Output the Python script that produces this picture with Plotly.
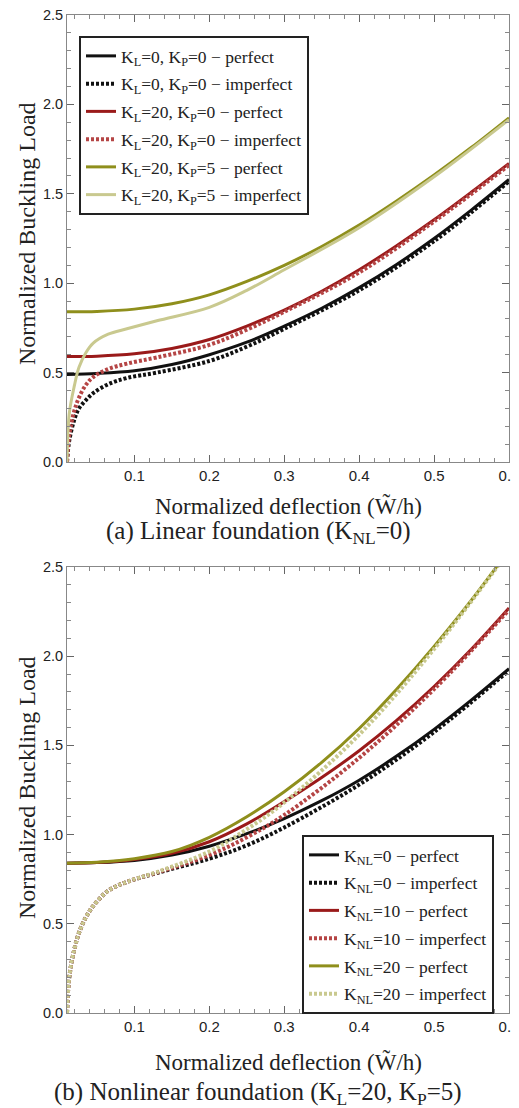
import plotly.graph_objects as go

# ---------------- data ----------------
X_PERF = [0.01, 0.05, 0.1, 0.15, 0.2, 0.25, 0.3, 0.35, 0.4, 0.45, 0.5, 0.55, 0.6]
X_IMP = [0.01, 0.013, 0.02, 0.026, 0.035, 0.045, 0.065, 0.09, 0.13, 0.2, 0.25, 0.3, 0.4, 0.5, 0.6]

# (a) linear foundation
A_KL0_KP0_PERF = [0.49, 0.495, 0.51, 0.545, 0.60, 0.67, 0.76, 0.86, 0.975, 1.105, 1.25, 1.41, 1.58]
A_KL20_KP0_PERF = [0.59, 0.592, 0.605, 0.635, 0.685, 0.76, 0.85, 0.955, 1.075, 1.21, 1.355, 1.51, 1.67]
A_KL20_KP5_PERF = [0.84, 0.842, 0.855, 0.885, 0.935, 1.01, 1.10, 1.205, 1.325, 1.46, 1.605, 1.76, 1.925]
A_KL0_KP0_IMP = [0.0, 0.12, 0.24, 0.30, 0.345, 0.385, 0.435, 0.47, 0.50, 0.565, 0.645, 0.745, 0.96, 1.235, 1.57]
A_KL20_KP0_IMP = [0.0, 0.15, 0.29, 0.36, 0.43, 0.475, 0.52, 0.55, 0.585, 0.655, 0.74, 0.84, 1.06, 1.345, 1.66]
A_KL20_KP5_IMP = [0.0, 0.27, 0.43, 0.53, 0.61, 0.665, 0.715, 0.745, 0.79, 0.865, 0.96, 1.075, 1.31, 1.595, 1.915]

# (b) nonlinear foundation
B_KNL0_PERF = [0.84, 0.843, 0.855, 0.885, 0.935, 1.005, 1.09, 1.19, 1.305, 1.44, 1.59, 1.755, 1.93]
B_KNL10_PERF = [0.84, 0.843, 0.86, 0.895, 0.96, 1.06, 1.185, 1.32, 1.47, 1.64, 1.83, 2.04, 2.27]
B_KNL20_PERF = [0.84, 0.845, 0.865, 0.905, 0.985, 1.10, 1.24, 1.405, 1.595, 1.815, 2.055, 2.315, 2.595]
B_KNL0_IMP = [0.0, 0.20, 0.36, 0.45, 0.535, 0.60, 0.685, 0.735, 0.785, 0.865, 0.94, 1.04, 1.28, 1.575, 1.92]
B_KNL10_IMP = [0.0, 0.20, 0.36, 0.45, 0.535, 0.60, 0.685, 0.735, 0.787, 0.885, 0.985, 1.11, 1.43, 1.815, 2.26]
B_KNL20_IMP = [0.0, 0.20, 0.36, 0.45, 0.535, 0.60, 0.685, 0.735, 0.79, 0.905, 1.03, 1.18, 1.56, 2.04, 2.59]

LEGEND_A = ["K<sub>L</sub>=0, K<sub>P</sub>=0 \u2212 perfect",
            "K<sub>L</sub>=0, K<sub>P</sub>=0 \u2212 imperfect",
            "K<sub>L</sub>=20, K<sub>P</sub>=0 \u2212 perfect",
            "K<sub>L</sub>=20, K<sub>P</sub>=0 \u2212 imperfect",
            "K<sub>L</sub>=20, K<sub>P</sub>=5 \u2212 perfect",
            "K<sub>L</sub>=20, K<sub>P</sub>=5 \u2212 imperfect"]
LEGEND_B = ["K<sub>NL</sub>=0 \u2212 perfect",
            "K<sub>NL</sub>=0 \u2212 imperfect",
            "K<sub>NL</sub>=10 \u2212 perfect",
            "K<sub>NL</sub>=10 \u2212 imperfect",
            "K<sub>NL</sub>=20 \u2212 perfect",
            "K<sub>NL</sub>=20 \u2212 imperfect"]

X_TICKS = [0.1, 0.2, 0.3, 0.4, 0.5, 0.6]
Y_TICKS = [0.0, 0.5, 1.0, 1.5, 2.0, 2.5]

# ---------------- styles ----------------
BLACK = "#111111"
RED = "#9a1a1a"
RED_DOT = "#b54545"
OLIVE = "#8f8f1c"
OLIVE_LIGHT = "#c9c98f"
DOT = "3px,2px"

PAGE_W, PAGE_H = 519, 1108
OFF = 8  # default body margin of the html page
W, H = PAGE_W - OFF, PAGE_H - OFF
SERIF = "Liberation Serif, Times New Roman, serif"
SANS = "Liberation Sans, Arial, sans-serif"


def fx(px):
    return (px - OFF) / W


def fy(py):
    return 1 - (py - OFF) / H


fig = go.Figure()


def add(x, y, name, color, dash, width, xa, ya, legend, group):
    fig.add_trace(go.Scatter(
        x=x, y=y, name=name, mode="lines",
        line=dict(color=color, dash=dash, width=width, shape="spline", smoothing=1.0),
        xaxis=xa, yaxis=ya, legend=legend, legendgroup=group,
    ))


series_a = [
    (X_PERF, A_KL0_KP0_PERF, BLACK, "solid", 3),
    (X_IMP, A_KL0_KP0_IMP, BLACK, DOT, 4),
    (X_PERF, A_KL20_KP0_PERF, RED, "solid", 3),
    (X_IMP, A_KL20_KP0_IMP, RED_DOT, DOT, 4),
    (X_PERF, A_KL20_KP5_PERF, OLIVE, "solid", 3),
    (X_IMP, A_KL20_KP5_IMP, OLIVE_LIGHT, "solid", 3),
]
for i, (x, y, c, d, w) in enumerate(series_a):
    add(x, y, LEGEND_A[i], c, d, w, "x", "y", "legend", "a%d" % i)

series_b = [
    (X_PERF, B_KNL0_PERF, BLACK, "solid", 3),
    (X_IMP, B_KNL0_IMP, BLACK, DOT, 4),
    (X_PERF, B_KNL10_PERF, RED, "solid", 3),
    (X_IMP, B_KNL10_IMP, RED_DOT, DOT, 4),
    (X_PERF, B_KNL20_PERF, OLIVE, "solid", 3),
    (X_IMP, B_KNL20_IMP, OLIVE_LIGHT, DOT, 4),
]
for i, (x, y, c, d, w) in enumerate(series_b):
    add(x, y, LEGEND_B[i], c, d, w, "x2", "y2", "legend2", "b%d" % i)

# plot-area pixel boxes (page pixels)
L, R = 67, 509
TOP_A, BOT_A = 15, 462
TOP_B, BOT_B = 567, 1013


def xaxis(anchor):
    return dict(
        domain=[fx(L), fx(R)], range=[0.01, 0.6], anchor=anchor, automargin=False,
        tickvals=X_TICKS, ticktext=["%.1f" % v for v in X_TICKS],
        ticklabeloverflow="allow",
        ticks="inside", ticklen=7, tickwidth=1, tickcolor="#666",
        minor=dict(dtick=0.02, tick0=0, ticks="inside", ticklen=4, tickwidth=1, tickcolor="#888"),
        showline=True, linecolor="#888", linewidth=1, mirror="allticks",
        showgrid=False, zeroline=False,
        tickfont=dict(family=SANS, size=15, color="#222"),
        fixedrange=True,
    )


def yaxis(anchor, top, bot):
    return dict(
        domain=[fy(bot), fy(top)], range=[0, 2.5], anchor=anchor, automargin=False,
        tickvals=Y_TICKS, ticktext=["%.1f" % v for v in Y_TICKS],
        ticklabeloverflow="allow",
        ticks="inside", ticklen=7, tickwidth=1, tickcolor="#666",
        minor=dict(dtick=0.1, tick0=0, ticks="inside", ticklen=4, tickwidth=1, tickcolor="#888"),
        showline=True, linecolor="#888", linewidth=1, mirror="allticks",
        showgrid=False, zeroline=False,
        tickfont=dict(family=SANS, size=14.5, color="#222"),
        fixedrange=True,
    )


legend_common = dict(
    bgcolor="white", bordercolor="#222", borderwidth=2,
    font=dict(family=SERIF, size=17.5, color="#222"),
    xanchor="left", yanchor="top", itemwidth=30,
    traceorder="grouped", tracegroupgap=2,
)

fig.update_layout(
    width=W, height=H,
    margin=dict(l=0, r=0, t=0, b=0, autoexpand=False),
    paper_bgcolor="white", plot_bgcolor="white",
    showlegend=True,
    xaxis=xaxis("y"), yaxis=yaxis("x", TOP_A, BOT_A),
    xaxis2=xaxis("y2"), yaxis2=yaxis("x2", TOP_B, BOT_B),
    legend=dict(x=fx(79), y=fy(36), **legend_common),
    legend2=dict(x=fx(302), y=fy(835), **legend_common),
)


def text(x, y, s, size, angle=0):
    fig.add_annotation(x=fx(x), y=fy(y), xref="paper", yref="paper",
                       text=s, showarrow=False, textangle=angle,
                       xanchor="center", yanchor="middle",
                       font=dict(family=SERIF, size=size, color="#222"))


XT = "Normalized deflection (W\u0303/h)"
YT = "Normalized Buckling Load"
text(288, 506, XT, 23)
text(258, 532, "(a) Linear foundation (K<sub>NL</sub>=0)", 25)
text(27, 234, YT, 24, -90)
text(288, 1062, XT, 23)
text(258, 1093, "(b) Nonlinear foundation (K<sub>L</sub>=20, K<sub>P</sub>=5)", 25)
text(27, 788, YT, 24, -90)

fig.write_html("out.html")
